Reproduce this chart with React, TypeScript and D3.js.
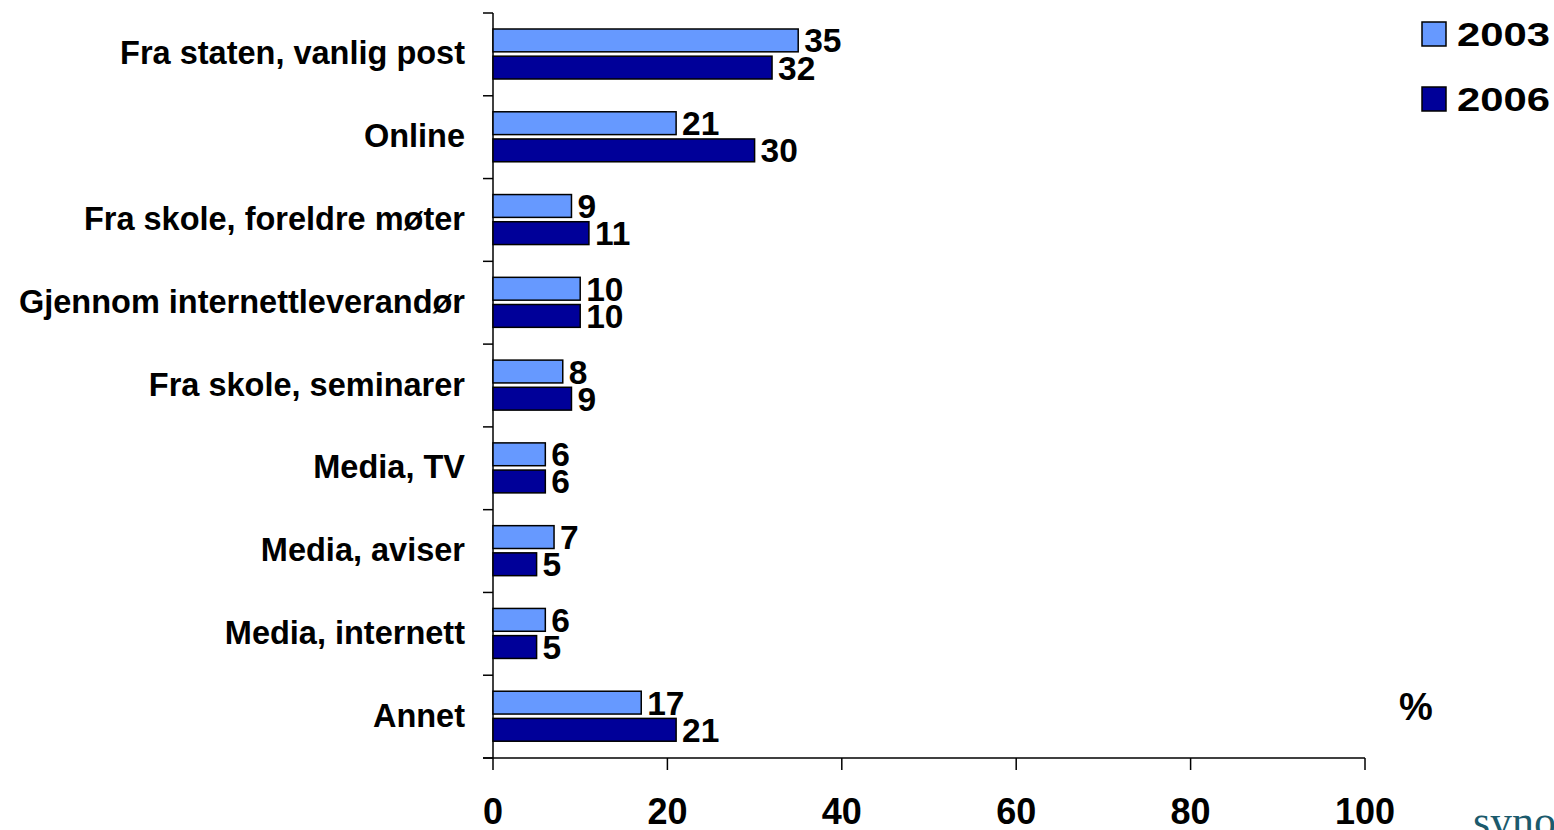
import React from 'react';
import * as d3 from 'd3';

const categories = [
  'Fra staten, vanlig post',
  'Online',
  'Fra skole, foreldre møter',
  'Gjennom internettleverandør',
  'Fra skole, seminarer',
  'Media, TV',
  'Media, aviser',
  'Media, internett',
  'Annet',
];
const seriesNames = ['2003', '2006'];
const values2003 = [35, 21, 9, 10, 8, 6, 7, 6, 17];
const values2006 = [32, 30, 11, 10, 9, 6, 5, 5, 21];
const xTicks = [0, 20, 40, 60, 80, 100];

const colors: Record<string, string> = { '2003': '#6699FF', '2006': '#000099' };
const seriesValues: Record<string, number[]> = { '2003': values2003, '2006': values2006 };

const W = 1554;
const H = 830;
const FONT = '"Liberation Sans", Arial, sans-serif';

export default function App() {
  const x = d3.scaleLinear().domain([0, 100]).range([493, 1365]);
  const y = d3.scaleBand().domain(categories).range([13, 758]).padding(0);
  const sub = d3.scaleBand().domain(seriesNames).range([16, 66]).paddingInner(0.16);
  const bounds = [...categories.map(c => y(c) as number), 758];

  return (
    <svg
      width={W}
      height={H}
      style={{ position: 'fixed', left: 0, top: 0, background: '#fff' }}
      fontFamily={FONT}
      fontWeight="bold"
    >
      {/* y axis */}
      <line x1={493} x2={493} y1={13} y2={758} stroke="#000" strokeWidth={1.5} />
      {bounds.map((b, i) => (
        <line key={'yt' + i} x1={483} x2={493} y1={b} y2={b} stroke="#000" strokeWidth={1.5} />
      ))}
      {/* x axis */}
      <line x1={483} x2={x(100)} y1={758} y2={758} stroke="#000" strokeWidth={1.5} />
      {xTicks.map(t => (
        <g key={'xt' + t}>
          <line x1={x(t)} x2={x(t)} y1={758} y2={770} stroke="#000" strokeWidth={1.5} />
          <text x={x(t)} y={824} textAnchor="middle" fontSize={36}>{t}</text>
        </g>
      ))}

      {/* category labels */}
      {categories.map(c => (
        <text
          key={'cl' + c}
          x={465}
          y={(y(c) as number) + y.bandwidth() / 2 + 10}
          textAnchor="end"
          fontSize={32.5}
        >
          {c}
        </text>
      ))}

      {/* bars */}
      {categories.map((c, i) =>
        seriesNames.map(s => {
          const v = seriesValues[s][i];
          const top = (y(c) as number) + (sub(s) as number);
          return (
            <g key={c + s}>
              <rect
                x={x(0)}
                y={top}
                width={x(v) - x(0)}
                height={sub.bandwidth()}
                fill={colors[s]}
                stroke="#000"
                strokeWidth={1.5}
              />
              <text x={x(v) + 6} y={top + sub.bandwidth() / 2 + 12} fontSize={33.5}>
                {v}
              </text>
            </g>
          );
        })
      )}

      {/* legend */}
      {seriesNames.map((s, i) => (
        <g key={'lg' + s} transform={`translate(1422,${22 + i * 65})`}>
          <rect x={0} y={0} width={24} height={24} fill={colors[s]} stroke="#000" strokeWidth={1.5} />
          <text x={35} y={24} fontSize={34} textLength={93} lengthAdjust="spacingAndGlyphs">
            {s}
          </text>
        </g>
      ))}

      <text x={1399} y={720} fontSize={38}>%</text>

      <text
        x={1473}
        y={836}
        fontSize={44}
        fontWeight="normal"
        fontFamily='"Liberation Serif", serif'
        fill="#1b5a6c"
      >
        synovate
      </text>
    </svg>
  );
}
